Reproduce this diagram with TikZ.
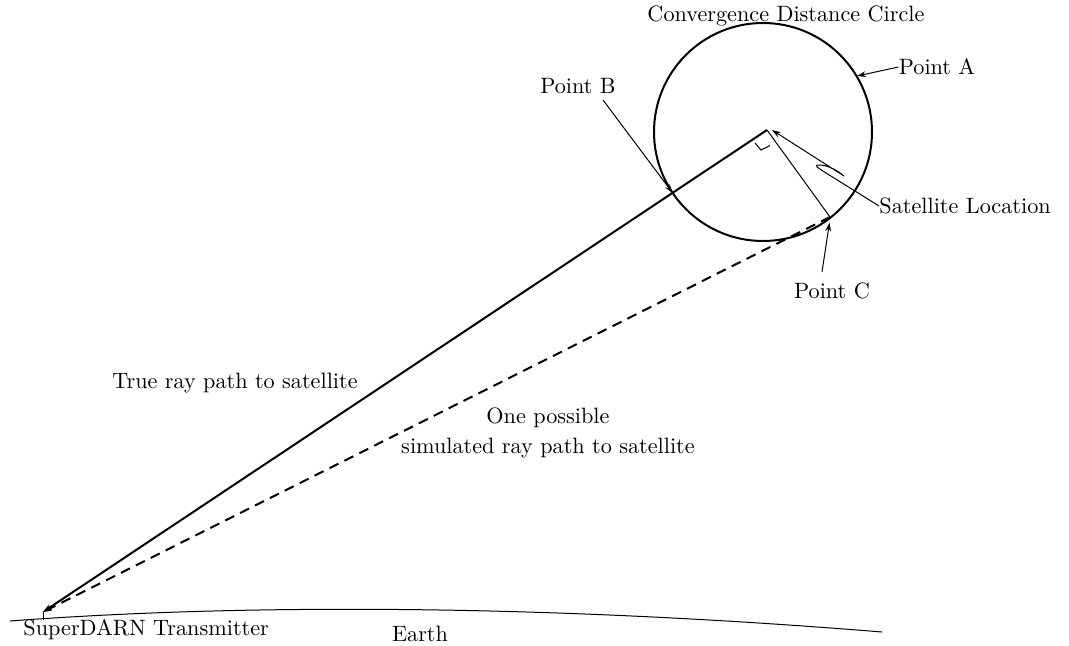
\documentclass[tikz,border=0pt]{standalone}
\usetikzlibrary{arrows.meta,calc}
\begin{document}
\begin{tikzpicture}[x=0.45pt,y=-0.45pt,
  thickline/.style={line width=0.9pt},
  thinline/.style={line width=0.45pt},
  tip/.style={-{Stealth[length=4pt,width=2.6pt]}},
  lbl/.style={inner sep=0pt}]
\useasboundingbox (0,0) rectangle (1069,646);
% key points
\coordinate (S) at (767,130);
\coordinate (O) at (763,132);
\coordinate (T) at (43,612);
\coordinate (G) at (43,619.5);
\coordinate (C) at (830,217);
\coordinate (A) at (857,76);
\coordinate (B) at ($(S)!0.1304!(T)$);
\coordinate (Ctip) at (829.5,222.5);
\coordinate (Ctail) at (822,272);
\coordinate (Btail) at (603,100);
% labels
\node[lbl] (conv) at (786,16) {Convergence Distance Circle};
\node[lbl] (pa) at (937,67) {Point A};
\node[lbl] (pb) at (578,86) {Point B};
\node[lbl,anchor=west] (sl) at (879,206) {Satellite Location};
\node[lbl] (pc) at (832,291) {Point C};
\node[lbl] (tr) at (235,383) {True ray path to satellite};
\node[lbl,align=center] (sim) at (548,433) {One possible\\[1.5pt]simulated ray path to satellite};
\node[lbl,anchor=west] (sd) at (23,630) {SuperDARN Transmitter};
\node[lbl] (earth) at (420,634) {Earth};
% earth
\draw[thinline] (10,621) .. controls (250,603) and (550,605) .. (882,632);
\draw[thinline] (T) -- (G);
% circle
\draw[thickline] (O) circle[radius=109];
% rays
\draw[thickline,tip] (S) -- (T);
\draw[thickline,dash pattern=on 4.5pt off 3pt,tip] (C) -- (T);
\draw[thinline] (S) -- (C);
% right angle marker
\draw[thinline] (755,143) -- (761,150) -- (770,145.5);
% leaders
\draw[thinline,tip] (pa.west) -- (A);
\draw[thinline,tip] (Btail) -- (B);
\draw[thinline,tip] (Ctail) -- (Ctip);
\draw[thinline,tip] (sl.west) -- (822,170.5)
  .. controls (816,166.5) and (814,164.5) .. (820,165)
  .. controls (829,165.5) and (838,171) .. (844,176)
  -- (772,130);
\end{tikzpicture}
\end{document}
